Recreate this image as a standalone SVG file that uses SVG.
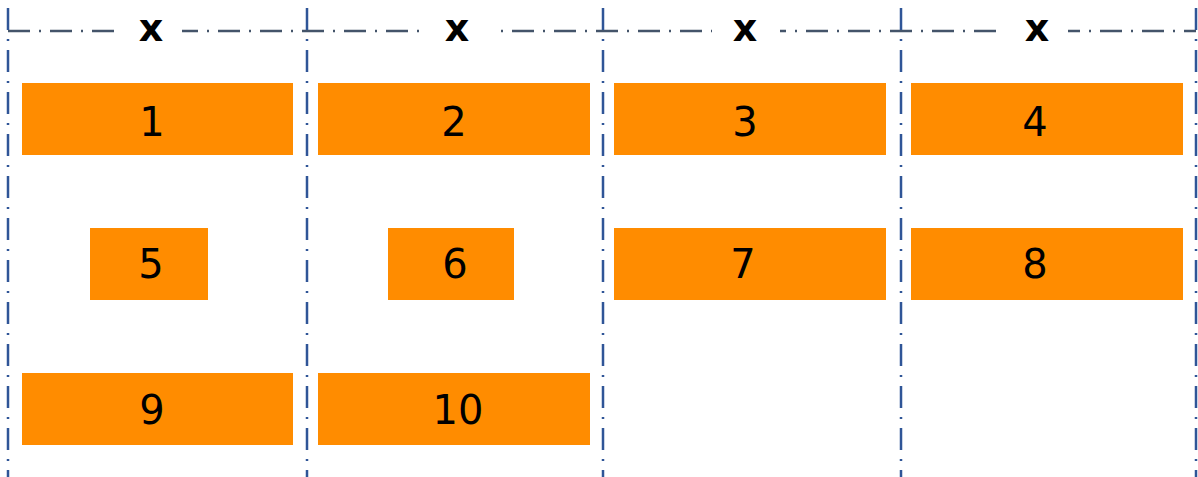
<svg xmlns="http://www.w3.org/2000/svg" width="1198" height="477" viewBox="0 0 1198 477">
<style>
.v{stroke:#2F5597;stroke-width:2.5;stroke-dasharray:22 9 2 9;fill:none}
.h{stroke:#44546A;stroke-width:2.5;stroke-dasharray:22 9 2 9;fill:none}
.b{fill:#FF8C00}
.t{font-family:"DejaVu Sans",sans-serif;font-size:40px;fill:#000;text-anchor:middle;dominant-baseline:central}
.x{font-family:"DejaVu Sans",sans-serif;font-size:38px;font-weight:bold;fill:#000;text-anchor:middle;dominant-baseline:central}
.bg{fill:#fff}
</style>
<rect width="1198" height="477" fill="#fff"/>
<g id="grid">
<line class="h" x1="8" y1="31" x2="1196" y2="31"/>
<rect class="bg" x="120" y="12" width="62" height="36"/>
<rect class="bg" x="420" y="12" width="72" height="36"/>
<rect class="bg" x="712" y="12" width="68" height="36"/>
<rect class="bg" x="1004" y="12" width="64" height="36"/>
<line class="v" x1="8" y1="8" x2="8" y2="477"/>
<line class="v" x1="307" y1="8" x2="307" y2="477"/>
<line class="v" x1="603" y1="8" x2="603" y2="477"/>
<line class="v" x1="901" y1="8" x2="901" y2="477"/>
<line class="v" x1="1196" y1="8" x2="1196" y2="477"/>
<text class="x" x="151" y="28">x</text>
<text class="x" x="457" y="28">x</text>
<text class="x" x="745" y="28">x</text>
<text class="x" x="1037" y="28">x</text>
</g>
<g id="n1"><rect class="b" x="22" y="83" width="271" height="72"/><text class="t" x="152" y="122">1</text></g>
<g id="n2"><rect class="b" x="318" y="83" width="272" height="72"/><text class="t" x="454" y="122">2</text></g>
<g id="n3"><rect class="b" x="614" y="83" width="272" height="72"/><text class="t" x="745" y="122">3</text></g>
<g id="n4"><rect class="b" x="911" y="83" width="272" height="72"/><text class="t" x="1035" y="122">4</text></g>
<g id="n5"><rect class="b" x="90" y="228" width="118" height="72"/><text class="t" x="151" y="264">5</text></g>
<g id="n6"><rect class="b" x="388" y="228" width="126" height="72"/><text class="t" x="455" y="264">6</text></g>
<g id="n7"><rect class="b" x="614" y="228" width="272" height="72"/><text class="t" x="743" y="264">7</text></g>
<g id="n8"><rect class="b" x="911" y="228" width="272" height="72"/><text class="t" x="1035" y="264">8</text></g>
<g id="n9"><rect class="b" x="22" y="373" width="271" height="72"/><text class="t" x="152" y="410">9</text></g>
<g id="n10"><rect class="b" x="318" y="373" width="272" height="72"/><text class="t" x="458" y="410">10</text></g>
</svg>
